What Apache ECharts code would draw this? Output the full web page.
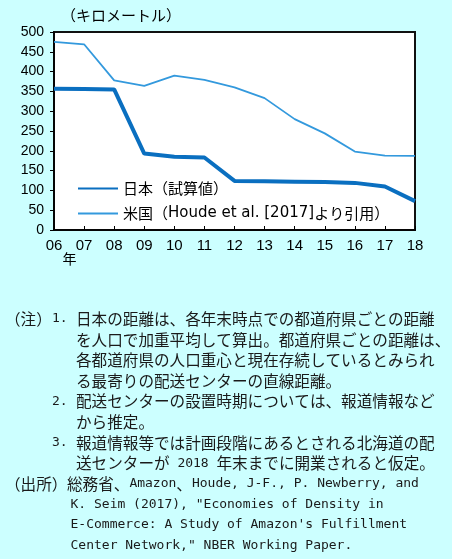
<!DOCTYPE html>
<html>
<head>
<meta charset="utf-8">
<script src="https://cdn.jsdelivr.net/npm/echarts@6/dist/echarts.min.js"></script>
<style>
  html, body { margin: 0; padding: 0; background: #ccffff; }
  #main { width: 452px; height: 559px; }
</style>
</head>
<body>
<div id="main"></div>
<script>
// data
const years = ['06', '07', '08', '09', '10', '11', '12', '13', '14', '15', '16', '17', '18'];
const japan = [357, 356, 355, 193, 185, 183, 124, 123, 122, 121, 119, 110, 73];
const usa = [475, 469, 378, 364, 390, 379, 360, 333, 280, 244, 198, 188, 187];
const seriesNames = ['日本（試算値）', '米国（Houde et al. [2017]より引用）'];
const unitLabel = '（キロメートル）';
const yearLabel = '年';

// notes under the chart: [x, line index, text]
const notes = [
  [5, 0, '（注）'], [52, 0, '1.'], [76, 0, '日本の距離は、各年末時点での都道府県ごとの距離'],
  [76, 1, 'を人口で加重平均して算出。都道府県ごとの距離は、'],
  [76, 2, '各都道府県の人口重心と現在存続しているとみられ'],
  [76, 3, 'る最寄りの配送センターの直線距離。'],
  [52, 4, '2.'], [76, 4, '配送センターの設置時期については、報道情報など'],
  [76, 5, 'から推定。'],
  [52, 6, '3.'], [76, 6, '報道情報等では計画段階にあるとされる北海道の配'],
  [76, 7, '送センターが 2018 年末までに開業されると仮定。'],
  [5, 8, '（出所）'], [67, 8, '総務省、Amazon、Houde, J-F., P. Newberry, and'],
  [70.5, 9, 'K. Seim (2017), "Economies of Density in'],
  [70.5, 10, 'E-Commerce: A Study of Amazon\'s Fulfillment'],
  [70.5, 11, 'Center Network," NBER Working Paper.']
];

// split into latin and japanese runs for rich text
function toRich(s) {
  return s.replace(/[\x20-\x7e]+|[^\x20-\x7e]+/g, function (m) {
    return (m.charCodeAt(0) < 127 ? '{a|' : '{j|') + m + '}';
  });
}

const noteRich = {
  a: { fontFamily: 'DejaVu Sans Mono', fontSize: 13, fill: '#1a1a1a', lineHeight: 20 },
  j: { fontFamily: 'Noto Sans CJK JP', fontSize: 15.6, fill: '#1a1a1a', lineHeight: 20 }
};

const graphics = notes.map(function (n) {
  return {
    type: 'text',
    x: n[0],
    y: 319 + n[1] * 20.6,
    style: {
      text: toRich(n[2]),
      rich: noteRich,
      verticalAlign: 'middle',
      align: 'left'
    }
  };
});
graphics.push({
  type: 'text', x: 121, y: 15,
  style: { text: unitLabel, font: '15px "Noto Sans CJK JP"', fill: '#000', align: 'center', verticalAlign: 'middle' }
});
graphics.push({
  type: 'text', x: 69.5, y: 259,
  style: { text: yearLabel, font: '14px "Noto Sans CJK JP"', fill: '#000', align: 'center', verticalAlign: 'middle' }
});

var myChart = echarts.init(document.getElementById('main'));
myChart.setOption({
  backgroundColor: '#ccffff',
  animation: false,
  grid: {
    left: 54, right: 37, top: 32, bottom: 329,
    show: true, backgroundColor: '#fff', borderColor: '#111', borderWidth: 2
  },
  legend: {
    orient: 'vertical',
    left: 77, top: 181,
    padding: 0,
    itemWidth: 40, itemHeight: 14, itemGap: 10,
    itemStyle: { opacity: 0 },
    formatter: function (name) { return toRich(name); },
    textStyle: {
      color: '#000',
      rich: {
        a: { fontFamily: 'DejaVu Sans', fontSize: 15, color: '#000' },
        j: { fontFamily: 'Noto Sans CJK JP', fontSize: 15, color: '#000' }
      }
    },
    data: seriesNames
  },
  xAxis: {
    type: 'category',
    data: years,
    boundaryGap: false,
    axisLine: { lineStyle: { color: '#000', width: 1.5 } },
    axisTick: { inside: true, length: 4, lineStyle: { color: '#000' } },
    axisLabel: { color: '#000', fontFamily: 'Liberation Sans', fontSize: 15, margin: 8 },
    splitLine: { show: false }
  },
  yAxis: {
    type: 'value',
    min: 0, max: 500, interval: 50,
    axisLine: { show: true, lineStyle: { color: '#000', width: 1.5 } },
    axisTick: { show: true, inside: false, length: 4, lineStyle: { color: '#000' } },
    axisLabel: { color: '#000', fontFamily: 'Liberation Sans', fontSize: 14, margin: 10 },
    splitLine: { show: false }
  },
  series: [
    {
      name: seriesNames[0],
      type: 'line',
      data: japan,
      symbol: 'none',
      color: '#0a6fc0',
      lineStyle: { width: 4, color: '#0a6fc0' }
    },
    {
      name: seriesNames[1],
      type: 'line',
      data: usa,
      symbol: 'none',
      color: '#3399dd',
      lineStyle: { width: 1.8, color: '#3399dd' }
    }
  ],
  graphic: graphics
});
</script>
</body>
</html>
